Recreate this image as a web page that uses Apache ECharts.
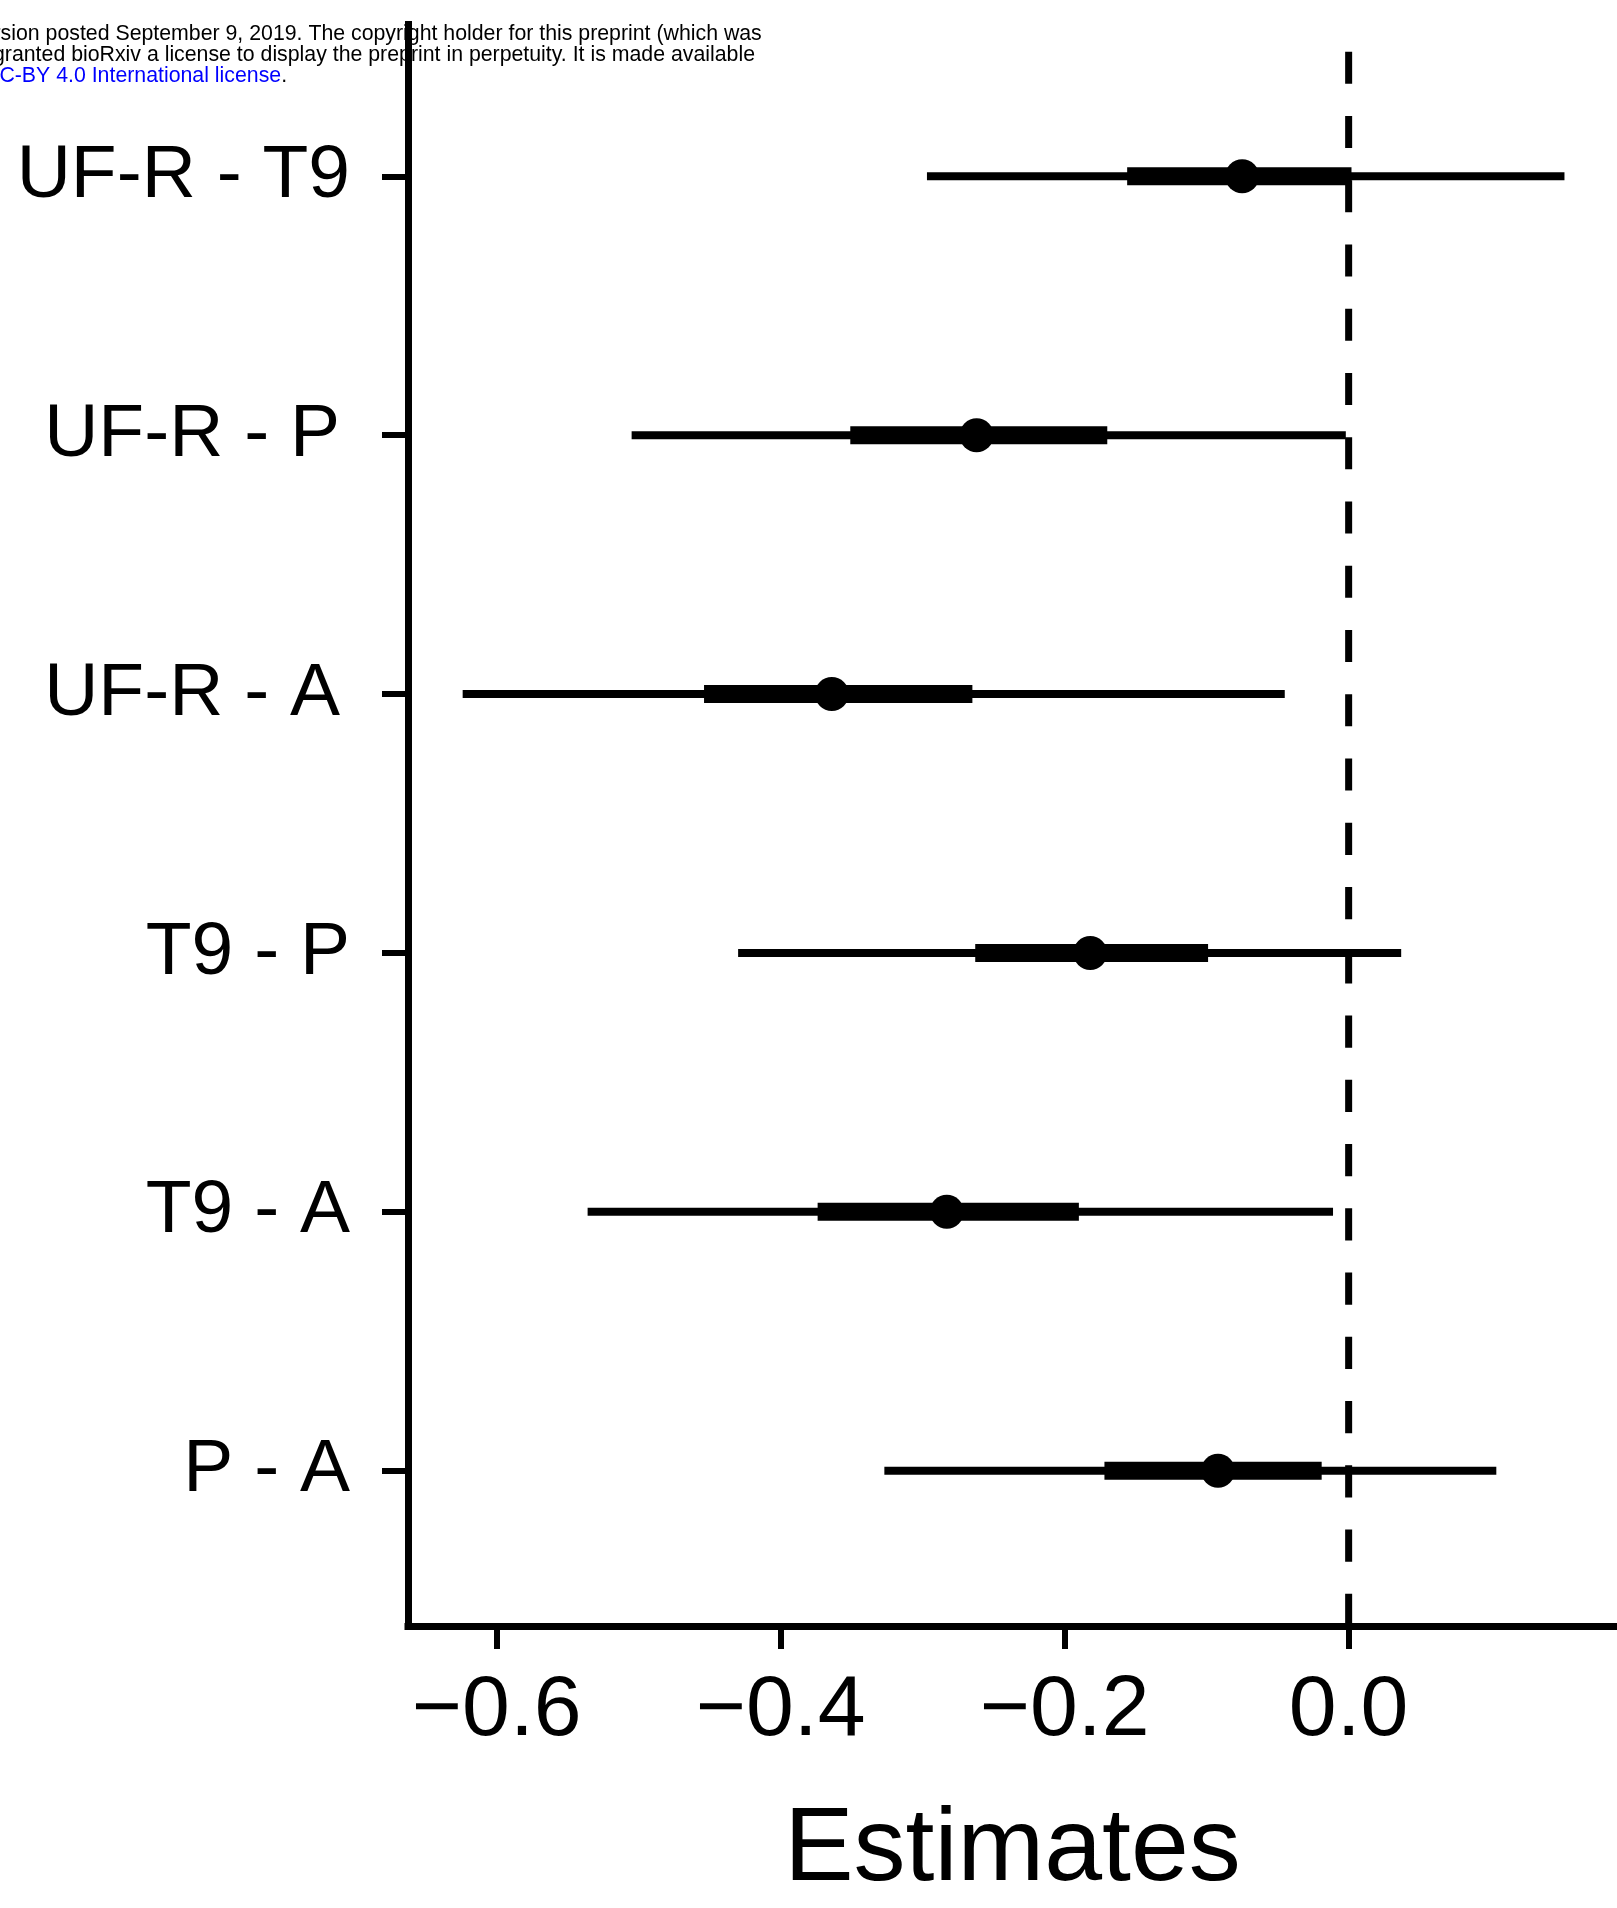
<!DOCTYPE html>
<html>
<head>
<meta charset="utf-8">
<title>Estimates</title>
<script src="https://cdn.jsdelivr.net/npm/echarts@6/dist/echarts.min.js"></script>
<style>
    html, body { margin: 0; padding: 0; background: #fff; }
    #chart { width: 1617px; height: 1908px; }
</style>
</head>
<body>
<div id="chart"></div>
<script>
// 对比组（从上到下）
let categories = ['UF-R - T9', 'UF-R - P', 'UF-R - A', 'T9 - P', 'T9 - A', 'P - A'];
// 点估计
let estimate = [-0.075, -0.262, -0.364, -0.182, -0.283, -0.092];
// 外层区间（细线）
let lower95 = [-0.297, -0.505, -0.624, -0.430, -0.536, -0.327];
let upper95 = [0.152, -0.002, -0.045, 0.037, -0.011, 0.104];
// 内层区间（粗线）
let lower50 = [-0.156, -0.351, -0.454, -0.263, -0.374, -0.172];
let upper50 = [0.002, -0.170, -0.265, -0.099, -0.190, -0.019];
// x轴刻度
let xTickValues = [-0.6, -0.4, -0.2, 0.0];
let xTickLabels = ['\u22120.6', '\u22120.4', '\u22120.2', '0.0'];
// 参考线
let refLine = [0];
let catIndex = categories.map(function (c, i) { return i; });

let yMin = -0.6, yMax = 5.6;
let font = 'Liberation Sans, Arial, Helvetica, sans-serif';
// 原图中这两个标签右侧略有空隙
let labelPad = { 'UF-R - P': 10, 'UF-R - A': 10 };

// 区间线段
function intervalRender(width) {
    return function (params, api) {
        let i = api.value(0);
        let a = api.coord([api.value(1), i]);
        let b = api.coord([api.value(2), i]);
        return {
            type: 'line',
            shape: { x1: a[0], y1: a[1], x2: b[0], y2: b[1] },
            style: { stroke: '#000', lineWidth: width, lineCap: 'butt' }
        };
    };
}

// 竖直虚线，从底部往上画
function refLineRender(params, api) {
    let a = api.coord([api.value(0), yMax]);
    let b = api.coord([api.value(0), yMin]);
    return {
        type: 'line',
        shape: { x1: a[0], y1: a[1], x2: b[0], y2: b[1] },
        style: { stroke: '#000', lineWidth: 7, lineCap: 'butt', lineDash: [32.13, 32.13], lineDashOffset: 0 }
    };
}

let myChart = echarts.init(document.getElementById('chart'), null, { renderer: 'canvas' });

let headFont = '21.3px ' + font;

let option = {
    animation: false,
    backgroundColor: '#fff',
    grid: { left: 408, right: 0, top: 21, bottom: 270 },
    graphic: {
        z: -10,
        elements: [
            {
                type: 'text', left: -29, top: 24, z: -10,
                style: { text: 'version posted September 9, 2019. The copyright holder for this preprint (which was', fill: '#000', font: headFont }
            },
            {
                type: 'text', left: -7, top: 45, z: -10,
                style: { text: 'granted bioRxiv a license to display the preprint in perpetuity. It is made available', fill: '#000', font: headFont }
            },
            {
                type: 'text', left: -16, top: 65.5, z: -10,
                style: {
                    text: '{a|CC-BY 4.0 International license}{b|.}',
                    font: headFont,
                    rich: {
                        a: { fill: '#0000ff', fontSize: 21.3, fontFamily: font },
                        b: { fill: '#000', fontSize: 21.3, fontFamily: font }
                    }
                }
            }
        ]
    },
    xAxis: {
        type: 'value',
        min: -0.6625,
        max: 0.189,
        splitLine: { show: false },
        axisLine: { onZero: false, lineStyle: { color: '#000', width: 7, cap: 'square' } },
        axisTick: { customValues: xTickValues, length: 23, lineStyle: { color: '#000', width: 6 } },
        axisLabel: {
            customValues: xTickValues,
            margin: 42,
            fontSize: 86,
            fontFamily: font,
            color: '#000',
            formatter: function (v) {
                for (let k = 0; k < xTickValues.length; k++) {
                    if (Math.abs(v - xTickValues[k]) < 1e-9) return xTickLabels[k];
                }
                return '';
            }
        },
        name: 'Estimates',
        nameLocation: 'middle',
        nameGap: 173,
        nameTextStyle: { fontSize: 104, fontFamily: font, color: '#000' }
    },
    yAxis: {
        type: 'value',
        inverse: true,
        min: yMin,
        max: yMax,
        splitLine: { show: false },
        axisLine: { onZero: false, lineStyle: { color: '#000', width: 7, cap: 'butt' } },
        axisTick: { customValues: catIndex, length: 26, lineStyle: { color: '#000', width: 6 } },
        axisLabel: {
            customValues: catIndex,
            margin: 58,
            fontSize: 75,
            fontFamily: font,
            color: '#000',
            formatter: function (v) {
                let name = categories[Math.round(v)];
                return labelPad[name] ? '{p|' + name + '}' : name;
            },
            rich: {
                p: { fontSize: 75, fontFamily: font, color: '#000', padding: [0, 10, 0, 0] }
            }
        }
    },
    series: [
        {
            name: 'zero',
            type: 'custom',
            renderItem: refLineRender,
            encode: { x: 0 },
            data: refLine.map(function (v) { return [v]; }),
            z: 1
        },
        {
            name: 'outer',
            type: 'custom',
            renderItem: intervalRender(8),
            encode: { x: [1, 2], y: 0 },
            data: categories.map(function (c, i) { return [i, lower95[i], upper95[i]]; }),
            z: 2
        },
        {
            name: 'inner',
            type: 'custom',
            renderItem: intervalRender(18),
            encode: { x: [1, 2], y: 0 },
            data: categories.map(function (c, i) { return [i, lower50[i], upper50[i]]; }),
            z: 3
        },
        {
            name: 'estimate',
            type: 'scatter',
            symbol: 'circle',
            symbolSize: 34,
            itemStyle: { color: '#000', opacity: 1 },
            data: categories.map(function (c, i) { return [estimate[i], i]; }),
            z: 4
        }
    ]
};

myChart.setOption(option);
</script>
</body>
</html>
